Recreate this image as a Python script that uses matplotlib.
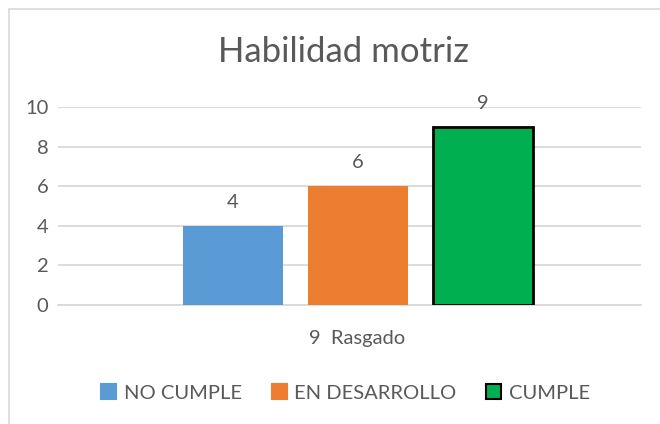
import matplotlib.pyplot as plt
from matplotlib.patches import Patch, Rectangle

categories = ["NO CUMPLE", "EN DESARROLLO", "CUMPLE"]
values = [4, 6, 9]
colors = ["#5B9BD5", "#ED7D31", "#00B050"]
edges = ["none", "none", "black"]
group_label = "9  Rasgado"
title = "Habilidad motriz"

txt = "#595959"
grid = "#D9D9D9"
plt.rcParams["font.family"] = ["Lato", "DejaVu Sans"]

fig = plt.figure(figsize=(6.6, 4.24), dpi=100)
fig.patches.append(Rectangle((9 / 660, -0.1), 1.2, (424 - 9) / 424 + 0.1,
                             transform=fig.transFigure, fill=False,
                             edgecolor="#D9D9D9", lw=1.2))

ax = fig.add_axes([58 / 660, 119 / 424, 583 / 660, 198 / 424])
x = list(range(len(values)))
ax.bar(x, values, width=0.8, color=colors, edgecolor=edges, linewidth=2, zorder=3)
for xi, v in zip(x, values):
    ax.annotate(str(v), (xi, v), xytext=(0, 17), textcoords="offset points",
                ha="center", va="center", fontsize=14.5, color=txt)

ax.set_xlim(-1.396, 3.268)
ax.set_ylim(0, 10)
ax.set_yticks(range(0, 11, 2))
ax.grid(axis="y", color=grid, lw=1.3, zorder=0)
for s in ["top", "right", "left"]:
    ax.spines[s].set_visible(False)
ax.spines["bottom"].set_color(grid)
ax.spines["bottom"].set_linewidth(1.3)
ax.set_xticks([1])
ax.set_xticklabels([group_label])
ax.tick_params(axis="x", length=0, pad=18, labelsize=14.5, labelcolor=txt)
ax.tick_params(axis="y", length=0, pad=7, labelsize=14.5, labelcolor=txt)

fig.text(0.52, 0.877, title, ha="center", va="center", fontsize=25, color=txt)

handles = [Patch(facecolor=c, edgecolor=("black" if e == "black" else c), lw=1.5)
           for c, e in zip(colors, edges)]
fig.legend(handles, categories, loc="center", bbox_to_anchor=(0.5235, 0.073),
           ncol=3, frameon=False, fontsize=14.5, labelcolor=txt,
           handlelength=0.75, handleheight=0.75, handletextpad=0.35, columnspacing=1.5)

fig.savefig("out.png", dpi=100)
